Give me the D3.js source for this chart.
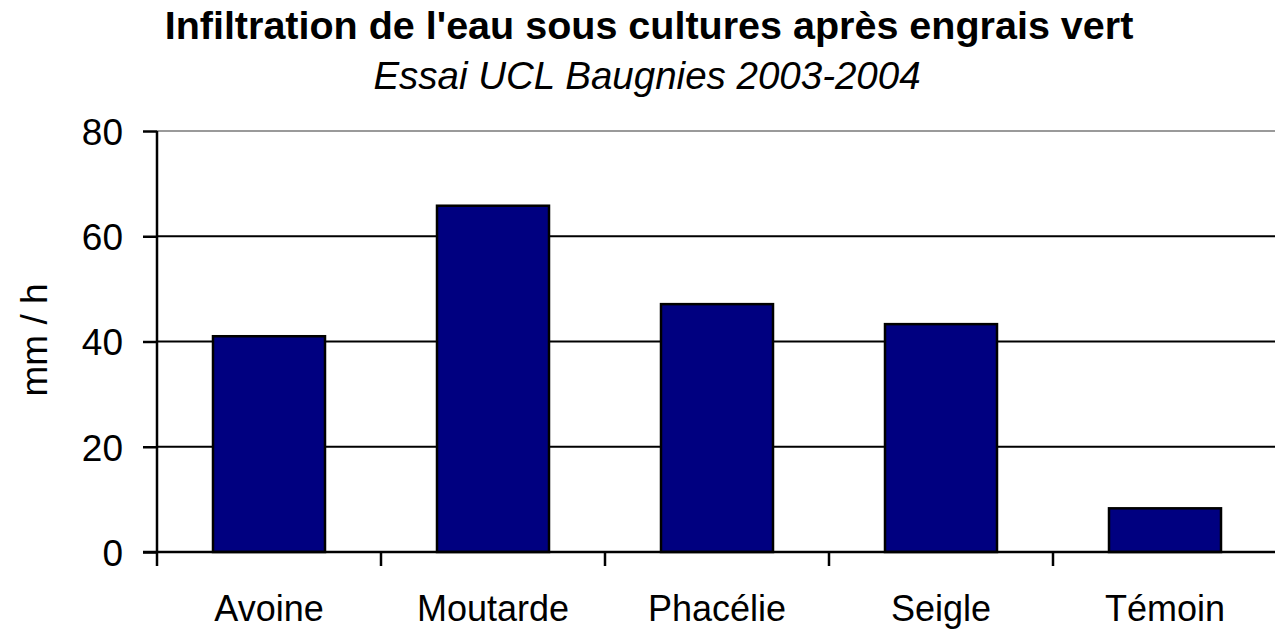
<!DOCTYPE html>
<html lang="fr">
<head>
<meta charset="UTF-8">
<title>Infiltration</title>
<script src="https://cdn.jsdelivr.net/npm/d3@7"></script>
<style>
  body { margin: 0; background: #fff; }
  svg text { font-family: "Liberation Sans", Arial, sans-serif; fill: #000; }
</style>
</head>
<body>
<div id="chart"></div>
<script>
// données
var cultures = ['Avoine', 'Moutarde', 'Phacélie', 'Seigle', 'Témoin'];
var infiltration = [41, 65.8, 47.1, 43.3, 8.3];
var yTicks = [0, 20, 40, 60, 80];

var W = 1275, H = 630;
var m = {left: 157, top: 131, right: -2, bottom: 78};

var svg = d3.select('#chart').append('svg')
    .attr('width', W).attr('height', H);

var x = d3.scaleBand()
    .domain(cultures)
    .range([m.left, W - m.right])
    .paddingInner(0.5)
    .paddingOuter(0.25);

var y = d3.scaleLinear()
    .domain([0, 80])
    .range([H - m.bottom, m.top]);

// quadrillage
svg.append('g').selectAll('line')
    .data(yTicks.filter(function (d) { return d > 0; }))
    .enter().append('line')
    .attr('x1', m.left).attr('x2', W)
    .attr('y1', function (d) { return y(d); })
    .attr('y2', function (d) { return y(d); })
    .attr('stroke', function (d) { return d === 80 ? '#9a9a9a' : '#000'; })
    .attr('stroke-width', 2);

// barres
svg.append('g').selectAll('rect')
    .data(infiltration)
    .enter().append('rect')
    .attr('x', function (d, i) { return x(cultures[i]); })
    .attr('width', x.bandwidth())
    .attr('y', function (d) { return y(d); })
    .attr('height', function (d) { return y(0) - y(d); })
    .attr('fill', '#000080')
    .attr('stroke', '#000')
    .attr('stroke-width', 2.5);

// axe Y
var yAxis = svg.append('g')
    .attr('transform', 'translate(' + m.left + ',0)')
    .call(d3.axisLeft(y).tickValues(yTicks).tickSize(14).tickPadding(20));
yAxis.select('.domain').attr('stroke-width', 2.5).attr('d', 'M0,' + y(80) + 'V' + y(0));
yAxis.selectAll('.tick line').attr('stroke-width', 2.5);
yAxis.selectAll('.tick text').style('font-size', '37px').attr('dy', '0.36em');

// axe X : repères entre les catégories
var step = x.step();
var sep = d3.range(cultures.length + 1).map(function (i) { return m.left + i * step; });
svg.append('line')
    .attr('x1', m.left - 14).attr('x2', W)
    .attr('y1', y(0)).attr('y2', y(0))
    .attr('stroke', '#000').attr('stroke-width', 2.5);
svg.append('g').selectAll('line')
    .data(sep)
    .enter().append('line')
    .attr('x1', function (d) { return d; }).attr('x2', function (d) { return d; })
    .attr('y1', y(0)).attr('y2', y(0) + 14)
    .attr('stroke', '#000').attr('stroke-width', 2.5);

svg.append('g').selectAll('text')
    .data(cultures)
    .enter().append('text')
    .attr('x', function (d) { return x(d) + x.bandwidth() / 2; })
    .attr('y', 621)
    .attr('text-anchor', 'middle')
    .style('font-size', '36px')
    .text(function (d) { return d; });

// titres
svg.append('text')
    .attr('x', 649).attr('y', 39)
    .attr('text-anchor', 'middle')
    .style('font-size', '39.5px').style('font-weight', 'bold')
    .text("Infiltration de l'eau sous cultures après engrais vert");

svg.append('text')
    .attr('x', 647).attr('y', 89)
    .attr('text-anchor', 'middle')
    .style('font-size', '38.5px').style('font-style', 'italic')
    .text('Essai UCL Baugnies 2003-2004');

svg.append('text')
    .attr('transform', 'translate(47,340) rotate(-90)')
    .attr('text-anchor', 'middle')
    .style('font-size', '37px')
    .text('mm / h');
</script>
</body>
</html>
